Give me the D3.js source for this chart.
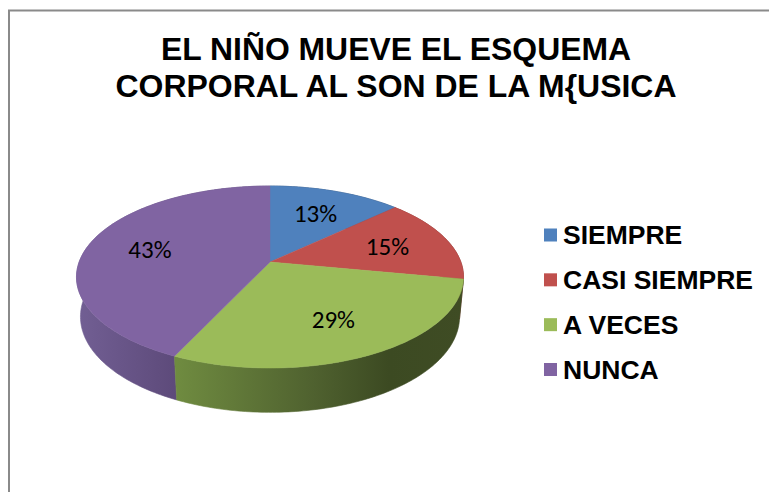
<!DOCTYPE html>
<html><head><meta charset="utf-8">
<script src="https://cdn.jsdelivr.net/npm/d3@7"></script>
<style>html,body{margin:0;padding:0;background:#fff;}svg{display:block;}</style>
</head><body>
<svg id="chart" width="769" height="492"></svg>
<script>
const titleLines = ["EL NIÑO MUEVE EL ESQUEMA", "CORPORAL AL SON DE LA M{USICA"];
const categories = ["SIEMPRE", "CASI SIEMPRE", "A VECES", "NUNCA"];
const values = [13, 15, 29, 43];
const labels = ["13%", "15%", "29%", "43%"];
const topColors = ["#4f81bd", "#c0504d", "#9bbb59", "#8064a2"];

const svg = d3.select("#chart");
const W = 769, H = 492;
svg.append("rect").attr("width", W).attr("height", H).attr("fill", "#fff");
// chart border
svg.append("path").attr("d", "M9,500 L9,10.5 L780,10.5").attr("fill", "none")
  .attr("stroke", "#8a8a8a").attr("stroke-width", 2);

// title
const titleW = [470, 561];
const titleY = [60, 97];
titleLines.forEach((t, i) => {
  svg.append("text").attr("x", 396).attr("y", titleY[i]).attr("text-anchor", "middle")
    .attr("font-family", "'Liberation Sans Narrow','Liberation Sans',Arial,sans-serif")
    .attr("font-weight", "bold").attr("font-size", 31).attr("fill", "#000")
    .attr("textLength", titleW[i]).attr("lengthAdjust", "spacingAndGlyphs")
    .text(t);
});

// perspective projection of a unit-radius cylinder
const P = {cx: 270, cy: 262, f: 1025, s: 0.4638, c: 0.886, D: 5.37, h: 0.237};
function proj(x, y, z) { // x right, y up, z back
  const v = y * P.c + z * P.s;
  const w = P.D + z * P.c - y * P.s;
  return [P.cx + P.f * x / w, P.cy - P.f * v / w];
}
function ring(a0, a1, r, y) {
  const n = Math.max(2, Math.ceil(Math.abs(a1 - a0) / (Math.PI / 180)));
  return d3.range(n + 1).map(i => {
    const a = a0 + (a1 - a0) * i / n;
    return proj(r * Math.sin(a), y, r * Math.cos(a));
  });
}

const pie = d3.pie().sort(null).value(d => d).startAngle(0).endAngle(2 * Math.PI);
const arcs = pie(values);

const defs = svg.append("defs");
const wallStops = [
  [[0, "#33567f"], [1, "#2c4a70"]],
  [[0, "#8a3634"], [1, "#7a2f2d"]],
  [[0, "#6f8b40"], [0.48, "#4f612f"], [0.74, "#3c4a22"], [1, "#3f4c24"]],
  [[0, "#725f94"], [1, "#5d4a7a"]]
];
const gradX = [[76, 463], [380, 463], [177, 463], [76, 177]];
wallStops.forEach((st, i) => {
  const g = defs.append("linearGradient").attr("id", "wall" + i)
    .attr("gradientUnits", "userSpaceOnUse")
    .attr("x1", gradX[i][0]).attr("x2", gradX[i][1]).attr("y1", 0).attr("y2", 0);
  st.forEach(s => g.append("stop").attr("offset", s[0]).attr("stop-color", s[1]));
});

const line = d3.line();
// walls, drawn back to front
const order = arcs.map((a, i) => i)
  .sort((i, j) => Math.cos((arcs[j].startAngle + arcs[j].endAngle) / 2) - Math.cos((arcs[i].startAngle + arcs[i].endAngle) / 2));
order.forEach(i => {
  const a = arcs[i];
  const topPts = ring(a.startAngle, a.endAngle, 1, 0);
  const botPts = ring(a.endAngle, a.startAngle, 1, -P.h);
  svg.append("path").attr("d", line(topPts.concat(botPts)) + "Z")
    .attr("fill", `url(#wall${i})`).attr("stroke", `url(#wall${i})`).attr("stroke-width", 0.6);
});
// top faces
const apex = proj(0, 0, 0);
arcs.forEach((a, i) => {
  const pts = [apex].concat(ring(a.startAngle, a.endAngle, 1, 0));
  svg.append("path").attr("d", line(pts) + "Z").attr("fill", topColors[i])
    .attr("stroke", topColors[i]).attr("stroke-width", 0.5);
});
// data labels
const labR = 0.66;
arcs.forEach((a, i) => {
  const m = (a.startAngle + a.endAngle) / 2;
  const p = proj(labR * Math.sin(m), 0, labR * Math.cos(m));
  svg.append("text").attr("x", p[0]).attr("y", p[1]).attr("text-anchor", "middle")
    .attr("dominant-baseline", "central")
    .attr("font-family", "Carlito,Lato,'Open Sans',sans-serif").attr("font-size", 25)
    .attr("fill", "#000").text(labels[i]);
});

// legend
const ly = d3.scalePoint().domain(categories).range([235, 369.5]);
const leg = svg.append("g");
categories.forEach((c, i) => {
  leg.append("rect").attr("x", 544).attr("y", ly(c) - 6.5).attr("width", 13).attr("height", 13)
    .attr("fill", topColors[i]);
  leg.append("text").attr("x", 563).attr("y", ly(c) + 9)
    .attr("font-family", "'Liberation Sans',Arial,sans-serif").attr("font-weight", "bold")
    .attr("font-size", 26.5).attr("fill", "#000").text(c);
});
</script>
</body></html>
